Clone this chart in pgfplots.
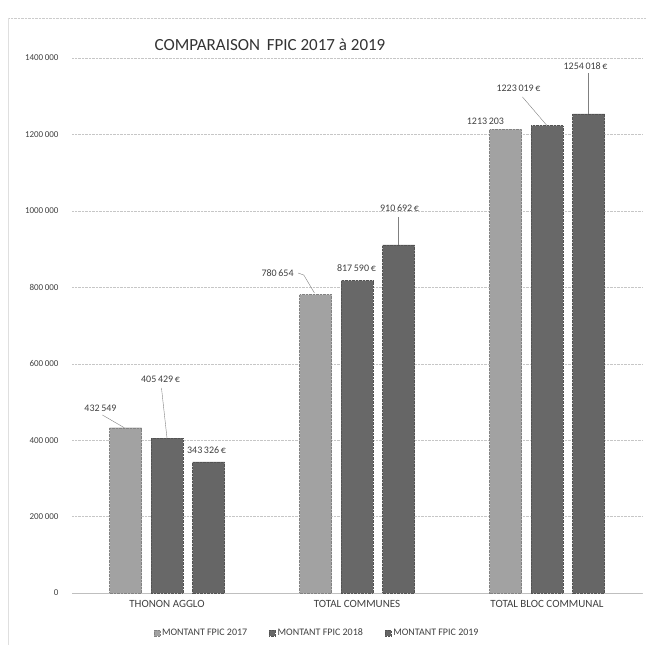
\documentclass[border=0pt]{standalone}
\usepackage{pgfplots}
\pgfplotsset{compat=1.18}
\usepackage{fontspec}
\setmainfont{Carlito}
\definecolor{c17}{HTML}{A2A2A2}
\definecolor{c18}{HTML}{686868}
\definecolor{c19}{HTML}{666666}
\definecolor{txt}{HTML}{404040}
\begin{document}
\begin{tikzpicture}
\path[use as bounding box] (0,0) rectangle (646pt,645pt);
\draw[gray!40, densely dotted] (8pt,627pt) -- (646pt,627pt);
\draw[gray!25] (8pt,627pt) -- (8pt,0pt);
\node[font=\fontsize{17}{19}\selectfont, text=black!80] at (270pt,600pt) {COMPARAISON\, FPIC 2017 à 2019};
\begin{axis}[
  at={(72pt,52pt)}, anchor=south west,
  scale only axis, width=570pt, height=535pt,
  ybar, bar width=32pt, ybar=9.5pt,
  xmin=-0.5, xmax=2.5, ymin=0, ymax=1400000,
  xtick={0,1,2},
  xticklabels={THONON AGGLO, TOTAL COMMUNES, TOTAL BLOC COMMUNAL},
  ytick={0,200000,400000,600000,800000,1000000,1200000,1400000},
  yticklabels={0, 200\,000, 400\,000, 600\,000, 800\,000, 1000\,000, 1200\,000, 1400\,000},
  scaled y ticks=false,
  yticklabel style={font=\fontsize{9}{10}\selectfont, text=txt, xshift=-10pt},
  xticklabel style={font=\fontsize{11}{12}\selectfont, text=txt, yshift=-4pt},
  axis x line*=bottom, axis y line*=left,
  y axis line style={draw=none},
  x axis line style={gray!50},
  major tick length=0pt,
  ymajorgrids, grid style={gray!45, densely dotted},
  legend style={at={(0.43,-0.075)}, anchor=center, legend columns=3, draw=none,
    font=\fontsize{10}{11}\selectfont, text=txt,
    /tikz/every even column/.append style={column sep=20pt}},
  legend image code/.code={\fill[#1] (1pt,-3pt) rectangle (7pt,3pt);},
  clip=false,
]
\addplot[fill=c17, draw=c17!80!black, densely dotted] coordinates {(0,432549) (1,780654) (2,1213203)};
\addplot[fill=c18, draw=c18!80!black, densely dotted] coordinates {(0,405429) (1,817590) (2,1223019)};
\addplot[fill=c19, draw=c19!80!black, densely dotted] coordinates {(0,343326) (1,910692) (2,1254018)};
\legend{MONTANT FPIC 2017, MONTANT FPIC 2018, MONTANT FPIC 2019}
\begin{scope}[every node/.style={font=\fontsize{10}{11}\selectfont, text=txt, inner sep=1pt}]
\node at (axis cs:-0.35,484100) {432\,549};
\draw[gray] (axis cs:-0.34,465800) -- (axis cs:-0.225,432549);
\node at (axis cs:-0.034,560000) {405\,429\,€};
\draw[gray] (axis cs:-0.029,536500) -- (axis cs:0,405429);
\node at (axis cs:0.208,374200) {343\,326\,€};
\node at (axis cs:0.582,837400) {780\,654};
\draw[gray] (axis cs:0.69,837400) -- (axis cs:0.72,832000) -- (axis cs:0.776,785100);
\node at (axis cs:0.997,850500) {817\,590\,€};
\node at (axis cs:1.224,1007500) {910\,692\,€};
\draw[gray] (axis cs:1.218,984000) -- (axis cs:1.218,910692);
\node at (axis cs:1.676,1235200) {1213\,203};
\node at (axis cs:1.85,1321600) {1223\,019\,€};
\draw[gray] (axis cs:1.871,1298000) -- (axis cs:2.0,1223019);
\node at (axis cs:2.203,1379200) {1254\,018\,€};
\draw[gray] (axis cs:2.218,1360800) -- (axis cs:2.218,1254018);
\end{scope}
\end{axis}
\end{tikzpicture}
\end{document}
